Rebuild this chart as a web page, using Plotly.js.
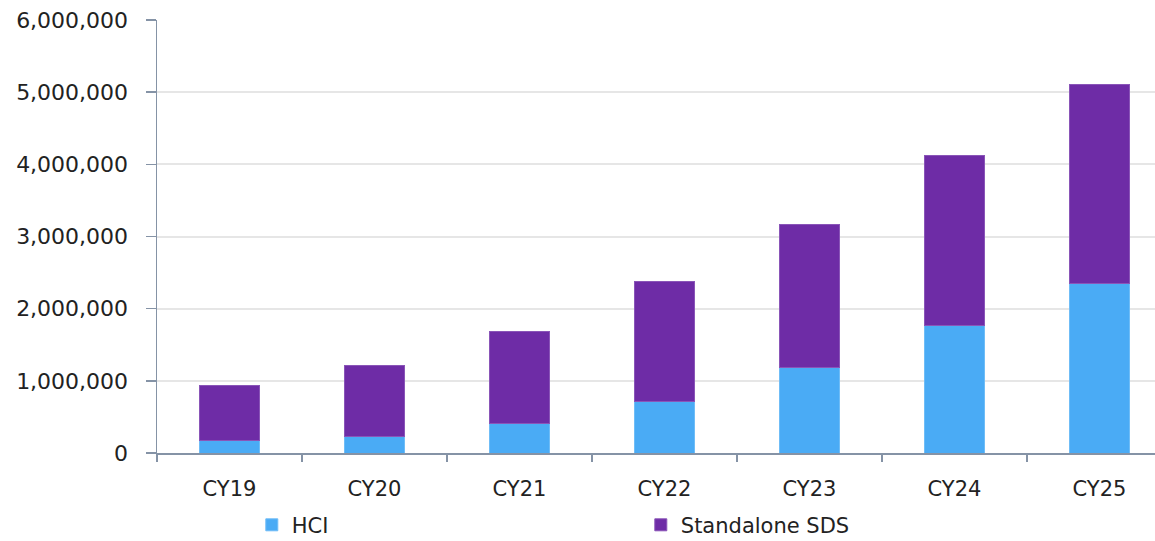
<!DOCTYPE html>
<html>
<head>
<meta charset="utf-8">
<script src="https://cdn.plot.ly/plotly-3.0.1.min.js"></script>
<style>html,body{margin:0;padding:0;background:#fff;}#chart{width:1155px;height:541px;}</style>
</head>
<body>
<div id="chart"></div>
<script>
const categories = ["CY19", "CY20", "CY21", "CY22", "CY23", "CY24", "CY25"];
const hciValues = [180000, 235000, 415000, 720000, 1180000, 1760000, 2355000];
const sdsValues = [760000, 975000, 1275000, 1660000, 1990000, 2360000, 2745000];
const seriesNames = ["HCI", "Standalone SDS"];
const yTickVals = [0, 1000000, 2000000, 3000000, 4000000, 5000000, 6000000];

const font = "DejaVu Sans, sans-serif";

const traces = [
  {
    type: "bar", name: seriesNames[0], x: categories, y: hciValues,
    marker: {color: "#4AABF5", line: {color: "#6fbdf7", width: 1}},
    width: 0.42, hoverinfo: "x+y"
  },
  {
    type: "bar", name: seriesNames[1], x: categories, y: sdsValues,
    marker: {color: "#6E2CA6", line: {color: "#8a55b8", width: 1}},
    width: 0.42, hoverinfo: "x+y"
  }
];

const layout = {
  width: 1155, height: 541,
  margin: {l: 157, r: 0, t: 20, b: 88, autoexpand: false},
  barmode: "stack",
  paper_bgcolor: "#ffffff", plot_bgcolor: "#ffffff",
  font: {family: font, size: 21, color: "#222222"},
  showlegend: true,
  legend: {
    orientation: "h", x: 0.095, xanchor: "left", y: -0.214, yanchor: "bottom",
    entrywidth: 344, entrywidthmode: "pixels",
    font: {family: font, size: 21, color: "#222222"},
    traceorder: "normal", bgcolor: "rgba(0,0,0,0)"
  },
  xaxis: {
    type: "category", range: [-0.5, 6.383],
    showline: true, linecolor: "#8593a6", linewidth: 1.5,
    ticks: "outside", tickson: "boundaries", ticklen: 7, tickcolor: "#8593a6", tickwidth: 1.5,
    showgrid: false, ticklabelstandoff: 16,
    tickfont: {family: font, size: 21, color: "#222222"}, fixedrange: true
  },
  yaxis: {
    range: [0, 6000000], tickvals: yTickVals, tickformat: ",d",
    showline: true, linecolor: "#8593a6", linewidth: 1.5,
    ticks: "outside", ticklen: 10, tickcolor: "#8593a6", tickwidth: 1.5,
    showgrid: true, gridcolor: "#e6e6e6", gridwidth: 2,
    zeroline: false, ticklabelstandoff: 13,
    tickfont: {family: font, size: 22, color: "#222222"}, fixedrange: true
  }
};

Plotly.newPlot("chart", traces, layout, {displayModeBar: false, staticPlot: true});
</script>
</body>
</html>
